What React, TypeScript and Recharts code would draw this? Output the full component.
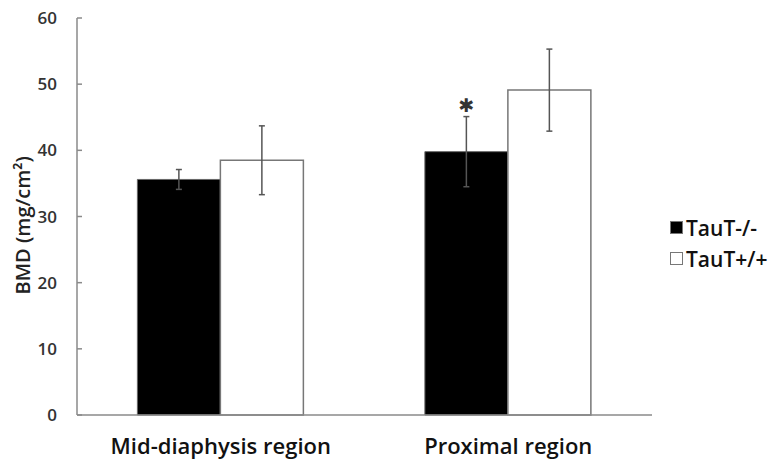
import { Bar, BarChart, ErrorBar, LabelList, XAxis, YAxis } from "recharts";

const regions = ["Mid-diaphysis region", "Proximal region"];
const knockoutMeans = [35.6, 39.8];
const knockoutErrors = [1.5, 5.3];
const wildTypeMeans = [38.5, 49.1];
const wildTypeErrors = [5.2, 6.2];
const significance = ["", "✱"];
const yTicks = [0, 10, 20, 30, 40, 50, 60];

const data = regions.map((region, i) => ({
  region,
  knockout: knockoutMeans[i],
  knockoutErr: knockoutErrors[i],
  wildType: wildTypeMeans[i],
  wildTypeErr: wildTypeErrors[i],
  sig: significance[i],
}));

const FONT = "'Open Sans', sans-serif";
const AXIS = "#8a8a8a";

function YTick({ x, y, payload }: any) {
  // tick marks point inward, like the original
  return (
    <g>
      <line x1={x + 8} x2={x + 13} y1={y} y2={y} stroke={AXIS} strokeWidth={1.5} />
      <text
        x={x - 12}
        y={y}
        dy={6}
        textAnchor="end"
        fill="#333"
        fontFamily={FONT}
        fontWeight={600}
        fontSize={17}
      >
        {payload.value}
      </text>
    </g>
  );
}

function XTick({ x, y, payload }: any) {
  return (
    <text
      x={x}
      y={y + 39}
      textAnchor="middle"
      fill="#111"
      fontFamily={FONT}
      fontWeight={600}
      fontSize={22}
    >
      {payload.value}
    </text>
  );
}

function Legend() {
  const items = [
    { label: "TauT-/-", fill: "#000" },
    { label: "TauT+/+", fill: "#fff" },
  ];
  return (
    <div style={{ position: "absolute", left: 670, top: 212, fontFamily: FONT }}>
      {items.map((it) => (
        <div key={it.label} style={{ display: "flex", alignItems: "center", height: 31 }}>
          <span
            style={{
              width: 11,
              height: 11,
              background: it.fill,
              border: "1.5px solid #777",
              marginRight: 3,
            }}
          />
          <span style={{ fontSize: 21, fontWeight: 600, color: "#111" }}>{it.label}</span>
        </div>
      ))}
    </div>
  );
}

export default function App() {
  return (
    <div style={{ position: "absolute", left: 0, top: 0, width: 783, height: 463, background: "#fff" }}>
      <BarChart
        width={783}
        height={463}
        data={data}
        margin={{ top: 18, right: 131, left: 0, bottom: 0 }}
        barGap={0}
        barCategoryGap="21%"
      >
        <XAxis
          dataKey="region"
          height={48}
          stroke={AXIS}
          strokeWidth={1.5}
          tickLine={false}
          tickSize={0}
          tickMargin={0}
          tick={<XTick />}
        />
        <YAxis
          domain={[0, 60]}
          ticks={yTicks}
          width={77}
          stroke={AXIS}
          strokeWidth={1.5}
          tickLine={false}
          tickSize={0}
          tickMargin={8}
          tick={<YTick />}
          label={{
            value: "BMD (mg/cm²)",
            angle: -90,
            position: "insideLeft",
            dx: 18,
            dy: 78,
            style: { fill: "#222", fontFamily: FONT, fontWeight: 600, fontSize: 20 },
          }}
        />
        <Bar dataKey="knockout" fill="#000" stroke="#666" strokeWidth={1} isAnimationActive={false}>
          <ErrorBar dataKey="knockoutErr" width={3} stroke="#555" strokeWidth={1.5} />
          <LabelList
            dataKey="sig"
            position="top"
            offset={40}
            style={{ fill: "#333", fontFamily: "'DejaVu Sans', sans-serif", fontSize: 19 }}
          />
        </Bar>
        <Bar dataKey="wildType" fill="#fff" stroke="#777" strokeWidth={1.5} isAnimationActive={false}>
          <ErrorBar dataKey="wildTypeErr" width={3} stroke="#555" strokeWidth={1.5} />
        </Bar>
      </BarChart>
      <Legend />
    </div>
  );
}
